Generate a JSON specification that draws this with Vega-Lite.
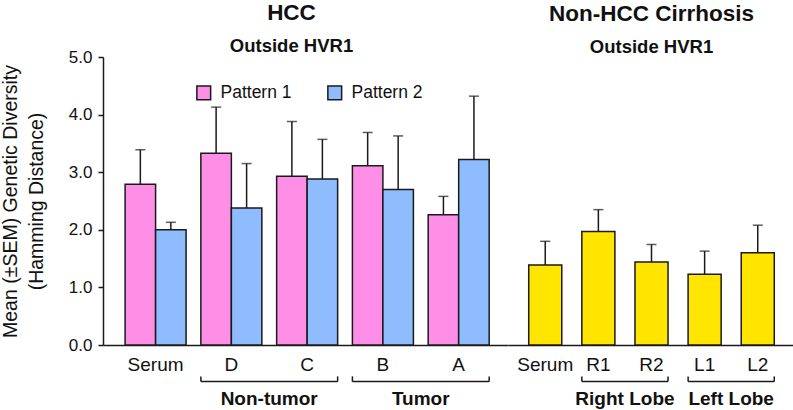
{
  "$schema": "https://vega.github.io/schema/vega-lite/v6.json",
  "padding": {"left": 0, "top": 2, "right": 0, "bottom": 0},
  "background": "white",
  "spacing": 0,
  "config": {
    "font": "Liberation Sans",
    "view": {"stroke": null},
    "axis": {"domainColor": "#1a1a1a", "tickColor": "#1a1a1a", "labelColor": "#111111", "titleColor": "#111111", "grid": false, "domainWidth": 1.5, "tickWidth": 1.5, "labelFont": "Liberation Sans", "titleFont": "Liberation Sans"},
    "title": {"font": "Liberation Sans", "fontSize": 22.5, "fontWeight": "bold", "subtitleFont": "Liberation Sans", "subtitleFontSize": 18.5, "subtitleFontWeight": "bold", "color": "#111111", "subtitleColor": "#111111", "anchor": "middle", "subtitlePadding": 12}
  },
  "datasets": {
    "hcc": [
      {"site": "Serum", "pattern": "Pattern 1", "mean": 2.79, "upper": 3.39},
      {"site": "Serum", "pattern": "Pattern 2", "mean": 2.0, "upper": 2.13},
      {"site": "D", "pattern": "Pattern 1", "mean": 3.33, "upper": 4.13},
      {"site": "D", "pattern": "Pattern 2", "mean": 2.38, "upper": 3.15},
      {"site": "C", "pattern": "Pattern 1", "mean": 2.93, "upper": 3.88},
      {"site": "C", "pattern": "Pattern 2", "mean": 2.88, "upper": 3.57},
      {"site": "B", "pattern": "Pattern 1", "mean": 3.11, "upper": 3.69},
      {"site": "B", "pattern": "Pattern 2", "mean": 2.7, "upper": 3.63},
      {"site": "A", "pattern": "Pattern 1", "mean": 2.26, "upper": 2.58},
      {"site": "A", "pattern": "Pattern 2", "mean": 3.22, "upper": 4.32}
    ],
    "cirrhosis": [
      {"site": "Serum", "mean": 1.39, "upper": 1.8},
      {"site": "R1", "mean": 1.97, "upper": 2.35},
      {"site": "R2", "mean": 1.44, "upper": 1.745},
      {"site": "L1", "mean": 1.23, "upper": 1.63},
      {"site": "L2", "mean": 1.6, "upper": 2.08}
    ],
    "hccGroups": [
      {"label": "Non-tumor", "from": "D", "to": "C"},
      {"label": "Tumor", "from": "B", "to": "A"}
    ],
    "cirGroups": [
      {"label": "Right Lobe", "from": "R1", "to": "R2"},
      {"label": "Left Lobe", "from": "L1", "to": "L2"}
    ]
  },
  "hconcat": [
    {
      "width": 405,
      "height": 288,
      "title": {"text": "HCC", "subtitle": "Outside HVR1", "dx": -14, "offset": -7},
      "layer": [
        {
          "data": {"name": "hcc"},
          "mark": {"type": "bar", "stroke": "#1a1a1a", "strokeWidth": 1.5},
          "encoding": {
            "x": {"field": "site", "type": "nominal", "scale": {"domain": ["Serum", "D", "C", "B", "A"], "paddingInner": 0.195, "paddingOuter": 0.27, "align": 0.54}, "axis": {"title": null, "labelAngle": 0, "ticks": false, "tickSize": 0, "labelFontSize": 19, "labelPadding": 10}},
            "xOffset": {"field": "pattern", "type": "nominal", "scale": {"domain": ["Pattern 1", "Pattern 2"], "paddingInner": 0, "paddingOuter": 0}},
            "y": {"field": "mean", "type": "quantitative", "scale": {"domain": [0, 5]}, "axis": {"title": ["Mean (±SEM) Genetic Diversity", "(Hamming Distance)"], "titleFontSize": 19.5, "titleFontWeight": "normal", "titleLineHeight": 25.5, "titlePadding": 22, "values": [0, 1, 2, 3, 4, 5], "format": ".1f", "labelFontSize": 17, "tickSize": 5, "labelPadding": 6}},
            "color": {"field": "pattern", "type": "nominal", "scale": {"domain": ["Pattern 1", "Pattern 2"], "range": ["#FF8EE6", "#8FBBFF"]}, "legend": {"orient": "none", "legendX": 92, "legendY": 27, "direction": "horizontal", "title": null, "symbolType": "square", "symbolSize": 190, "symbolStrokeColor": "#1a1a1a", "symbolStrokeWidth": 1.5, "symbolOpacity": 1, "labelFontSize": 17.5, "labelColor": "#111111", "labelOffset": 8, "columnPadding": 32, "padding": 0}}
          }
        },
        {
          "data": {"name": "hcc"},
          "mark": {"type": "rule", "strokeWidth": 1.5, "color": "#1a1a1a"},
          "encoding": {
            "x": {"field": "site", "type": "nominal"},
            "xOffset": {"field": "pattern", "type": "nominal"},
            "y": {"field": "mean", "type": "quantitative"},
            "y2": {"field": "upper"}
          }
        },
        {
          "data": {"name": "hcc"},
          "mark": {"type": "tick", "thickness": 1.5, "size": 10, "color": "#1a1a1a", "orient": "horizontal"},
          "encoding": {
            "x": {"field": "site", "type": "nominal"},
            "xOffset": {"field": "pattern", "type": "nominal"},
            "y": {"field": "upper", "type": "quantitative"}
          }
        },
        {
          "data": {"name": "hccGroups"},
          "mark": {"type": "rule", "strokeWidth": 1.5, "color": "#1a1a1a"},
          "encoding": {
            "x": {"field": "from", "type": "nominal", "bandPosition": 0},
            "x2": {"field": "to", "bandPosition": 1},
            "y": {"datum": -0.635}
          }
        },
        {
          "data": {"name": "hccGroups"},
          "mark": {"type": "rule", "strokeWidth": 1.5, "color": "#1a1a1a"},
          "encoding": {
            "x": {"field": "from", "type": "nominal", "bandPosition": 0},
            "y": {"datum": -0.545},
            "y2": {"datum": -0.635}
          }
        },
        {
          "data": {"name": "hccGroups"},
          "mark": {"type": "rule", "strokeWidth": 1.5, "color": "#1a1a1a"},
          "encoding": {
            "x": {"field": "to", "type": "nominal", "bandPosition": 1},
            "y": {"datum": -0.545},
            "y2": {"datum": -0.635}
          }
        },
        {
          "data": {"name": "hccGroups"},
          "mark": {"type": "text", "fontSize": 19, "fontWeight": "bold", "color": "#111111", "baseline": "middle", "align": "center"},
          "encoding": {
            "x": {"field": "from", "type": "nominal", "bandPosition": 1.12},
            "y": {"datum": -0.93},
            "text": {"field": "label"}
          }
        }
      ]
    },
    {
      "width": 287,
      "height": 288,
      "title": {"text": "Non-HCC Cirrhosis", "subtitle": "Outside HVR1", "offset": 1},
      "layer": [
        {
          "data": {"name": "cirrhosis"},
          "mark": {"type": "bar", "stroke": "#1a1a1a", "strokeWidth": 1.5, "fill": "#FFE500"},
          "encoding": {
            "x": {"field": "site", "type": "nominal", "scale": {"domain": ["Serum", "R1", "R2", "L1", "L2"], "paddingInner": 0.378, "paddingOuter": 0.39}, "axis": {"title": null, "labelAngle": 0, "ticks": false, "tickSize": 0, "labelFontSize": 19, "labelPadding": 10}},
            "y": {"field": "mean", "type": "quantitative", "scale": {"domain": [0, 5]}, "axis": null}
          }
        },
        {
          "data": {"name": "cirrhosis"},
          "mark": {"type": "rule", "strokeWidth": 1.5, "color": "#1a1a1a"},
          "encoding": {
            "x": {"field": "site", "type": "nominal"},
            "y": {"field": "mean", "type": "quantitative"},
            "y2": {"field": "upper"}
          }
        },
        {
          "data": {"name": "cirrhosis"},
          "mark": {"type": "tick", "thickness": 1.5, "size": 10, "color": "#1a1a1a", "orient": "horizontal"},
          "encoding": {
            "x": {"field": "site", "type": "nominal"},
            "y": {"field": "upper", "type": "quantitative"}
          }
        },
        {
          "data": {"name": "cirGroups"},
          "mark": {"type": "rule", "strokeWidth": 1.5, "color": "#1a1a1a"},
          "encoding": {
            "x": {"field": "from", "type": "nominal", "bandPosition": 0},
            "x2": {"field": "to", "bandPosition": 1},
            "y": {"datum": -0.635}
          }
        },
        {
          "data": {"name": "cirGroups"},
          "mark": {"type": "rule", "strokeWidth": 1.5, "color": "#1a1a1a"},
          "encoding": {
            "x": {"field": "from", "type": "nominal", "bandPosition": 0},
            "y": {"datum": -0.545},
            "y2": {"datum": -0.635}
          }
        },
        {
          "data": {"name": "cirGroups"},
          "mark": {"type": "rule", "strokeWidth": 1.5, "color": "#1a1a1a"},
          "encoding": {
            "x": {"field": "to", "type": "nominal", "bandPosition": 1},
            "y": {"datum": -0.545},
            "y2": {"datum": -0.635}
          }
        },
        {
          "data": {"name": "cirGroups"},
          "mark": {"type": "text", "fontSize": 19, "fontWeight": "bold", "color": "#111111", "baseline": "middle", "align": "center"},
          "encoding": {
            "x": {"field": "from", "type": "nominal", "bandPosition": 1.304},
            "y": {"datum": -0.93},
            "text": {"field": "label"}
          }
        }
      ]
    }
  ],
  "resolve": {"scale": {"color": "independent", "x": "independent", "y": "independent"}, "legend": {"color": "independent"}}
}
